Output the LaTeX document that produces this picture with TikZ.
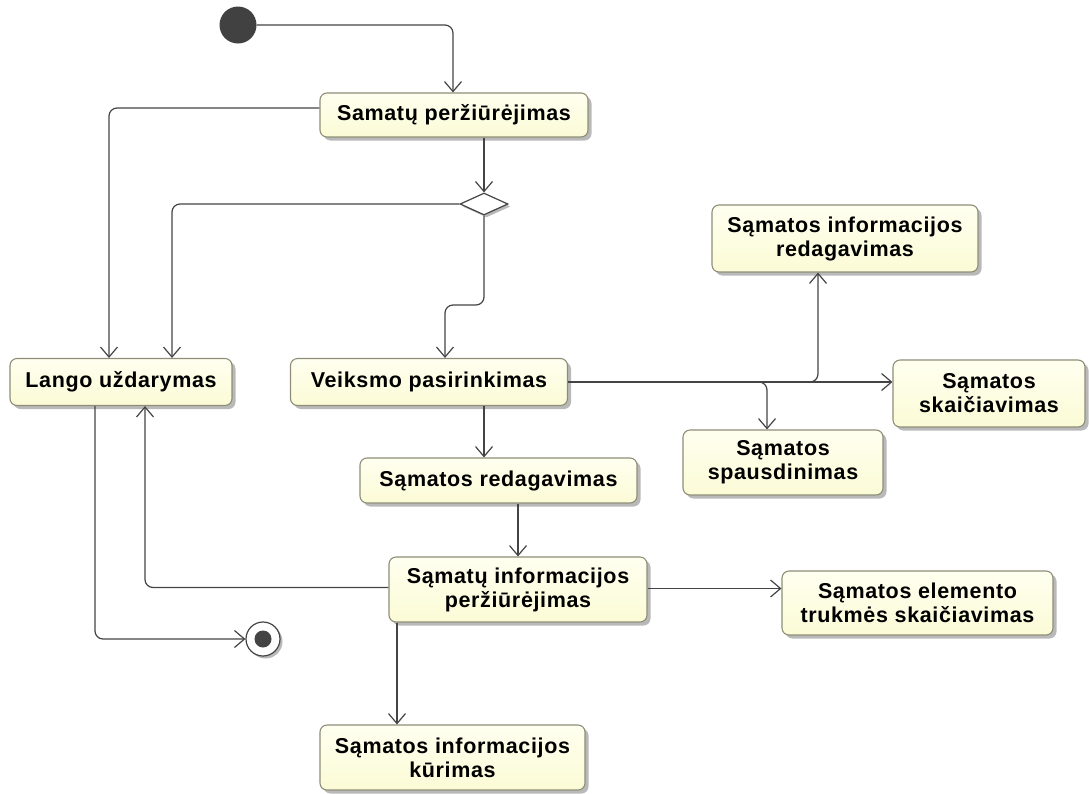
\documentclass[tikz,border=0pt]{standalone}
\usepackage{fontspec}
\setmainfont{Liberation Sans}
\newfontfamily\boxfont[LetterSpace=3]{Liberation Sans}
\usetikzlibrary{arrows.meta,shapes.geometric,shadows}
\definecolor{actfill}{HTML}{FBFBD6}
\definecolor{actfilltop}{HTML}{FFFFF0}
\definecolor{actline}{HTML}{8E8E78}
\definecolor{flowline}{HTML}{444444}
\definecolor{shade}{HTML}{A8A8A8}
\tikzset{
  activity/.style={draw=actline, line width=1.1pt, rounded corners=7pt,
    top color=actfilltop, bottom color=actfill, align=center,
    font=\boxfont\bfseries\fontsize{21.5}{24}\selectfont, inner sep=2pt,
    drop shadow={shadow xshift=3.5pt, shadow yshift=-3.5pt, fill=shade, opacity=0.8}},
  flow/.style={draw=flowline, line width=1.2pt, rounded corners=8pt,
    -{Straight Barb[length=10pt,width=17pt,line width=1.2pt]}},
  startnode/.style={circle, fill=flowline!95!black, minimum size=37pt, inner sep=0pt},
  endnode/.style={circle, draw=flowline, line width=1.2pt, fill=white,
    minimum size=34pt, inner sep=0pt,
    drop shadow={shadow xshift=2.5pt, shadow yshift=-2.5pt, fill=shade, opacity=0.8}},
  choice/.style={diamond, draw=flowline, line width=1.2pt, fill=white,
    minimum width=48pt, minimum height=22pt, inner sep=0pt, aspect=2.2,
    drop shadow={shadow xshift=2.5pt, shadow yshift=-2.5pt, fill=shade, opacity=0.8}}
}
\begin{document}
\begin{tikzpicture}[x=1pt, y=-1pt]
\useasboundingbox (0,0) rectangle (1089,793);

% start and end
\node[startnode] (init) at (238,25) {};
\node[endnode] (final) at (263,639) {};
\fill[flowline] (final) circle (8.5pt);

% activities
\node[activity, minimum width=268pt, minimum height=44pt] (view) at (454,115) {Samatų peržiūrėjimas};
\node[choice] (dec) at (484,204) {};
\node[activity, minimum width=222pt, minimum height=47pt] (close) at (121,382) {Lango uždarymas};
\node[activity, minimum width=277pt, minimum height=47pt] (pick) at (429,382) {Veiksmo pasirinkimas};
\node[activity, minimum width=266pt, minimum height=67pt] (infoedit) at (845,238.5) {Sąmatos informacijos\\redagavimas};
\node[activity, minimum width=192pt, minimum height=67pt] (calc) at (989,393.5) {Sąmatos\\skaičiavimas};
\node[activity, minimum width=200pt, minimum height=65pt] (print) at (783,462.5) {Sąmatos\\spausdinimas};
\node[activity, minimum width=277pt, minimum height=45pt] (edit) at (498.5,480.5) {Sąmatos redagavimas};
\node[activity, minimum width=258pt, minimum height=65pt] (infoview) at (518,589.5) {Sąmatų informacijos\\peržiūrėjimas};
\node[activity, minimum width=271pt, minimum height=64pt] (duration) at (917.5,603) {Sąmatos elemento\\trukmės skaičiavimas};
\node[activity, minimum width=265pt, minimum height=65pt] (create) at (452.5,757.5) {Sąmatos informacijos\\kūrimas};

% control flows
\draw[flow] (init) -| ([xshift=-1pt]view.north);
\draw[flow] ([yshift=7pt]view.west) -| ([xshift=-12pt]close.north);
\draw[flow] (view.south -| dec.north) -- (dec.north);
\draw[flow] (dec.west) -| ([xshift=51pt]close.north);
\draw[flow] (dec.south) -- (dec.south |- 0,305) -- ([xshift=16pt]pick.north |- 0,305) -- ([xshift=16pt]pick.north);
\draw[flow] (pick.east) -- (pick.east -| calc.west);
\draw[flow] (pick.east) -| ([xshift=-27pt]infoedit.south);
\draw[flow] (pick.east) -| ([xshift=-16pt]print.north);
\draw[flow] ([xshift=55pt]pick.south) -- ([xshift=55pt]pick.south |- edit.north);
\draw[flow] (infoview.north |- edit.south) -- (infoview.north);
\draw[flow] ([yshift=2pt]infoview.west) -| ([xshift=24pt]close.south);
\draw[flow] ([xshift=-26pt]close.south) |- (final.west);
\draw[flow] ([xshift=-55.5pt]create.north |- infoview.south) -- ([xshift=-55.5pt]create.north);
\draw[flow] ([yshift=1pt]infoview.east) -- ([yshift=1pt]infoview.east -| duration.west);
\end{tikzpicture}
\end{document}
